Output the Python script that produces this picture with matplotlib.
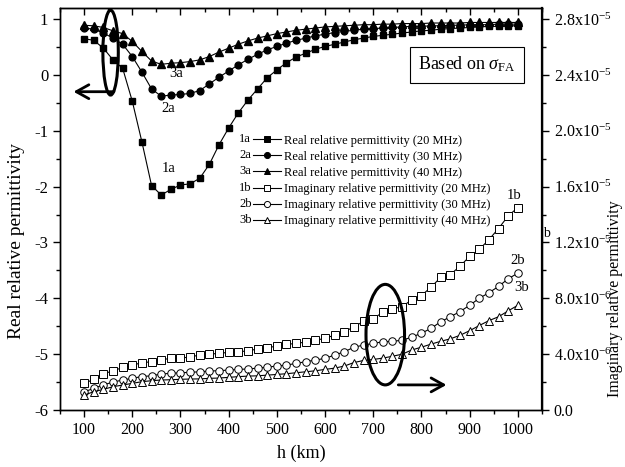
import numpy as np
import matplotlib
matplotlib.use('Agg')
import matplotlib.pyplot as plt
from matplotlib.lines import Line2D
from matplotlib.text import Text
from matplotlib.legend_handler import HandlerBase
from matplotlib.patches import Ellipse
from matplotlib.ticker import MultipleLocator

plt.rcParams['font.family'] = ['Liberation Serif', 'DejaVu Serif']
plt.rcParams['mathtext.fontset'] = 'custom'
plt.rcParams['mathtext.rm'] = 'Liberation Serif'
plt.rcParams['mathtext.it'] = 'Liberation Serif:italic'

# ---------------- data ----------------
h_km = list(range(100, 1001, 20))

real_20 = [0.65, 0.62, 0.48, 0.27, 0.12, -0.47, -1.20, -1.98, -2.15, -2.05,
           -1.97, -1.95, -1.85, -1.60, -1.25, -0.95, -0.68, -0.45, -0.25, -0.05,
           0.09, 0.22, 0.32, 0.39, 0.46, 0.51, 0.55, 0.59, 0.63, 0.66,
           0.69, 0.71, 0.73, 0.75, 0.77, 0.79, 0.80, 0.82, 0.83, 0.84,
           0.85, 0.86, 0.87, 0.87, 0.88, 0.88]
real_30 = [0.84, 0.82, 0.75, 0.66, 0.55, 0.33, 0.05, -0.25, -0.38, -0.36,
           -0.35, -0.33, -0.28, -0.16, -0.04, 0.07, 0.18, 0.28, 0.37, 0.45,
           0.51, 0.57, 0.62, 0.66, 0.70, 0.73, 0.76, 0.78, 0.80, 0.82,
           0.83, 0.84, 0.85, 0.86, 0.87, 0.87, 0.88, 0.88, 0.89, 0.89,
           0.90, 0.90, 0.90, 0.91, 0.91, 0.91]
real_40 = [0.89, 0.88, 0.85, 0.79, 0.74, 0.60, 0.42, 0.25, 0.19, 0.21,
           0.22, 0.24, 0.27, 0.33, 0.41, 0.48, 0.55, 0.61, 0.66, 0.70,
           0.74, 0.77, 0.80, 0.82, 0.84, 0.86, 0.87, 0.88, 0.89, 0.90,
           0.90, 0.91, 0.91, 0.92, 0.92, 0.92, 0.93, 0.93, 0.93, 0.93,
           0.94, 0.94, 0.94, 0.94, 0.94, 0.94]

# imaginary parts, in units of 1e-6
imag_20 = [1.9, 2.2, 2.6, 2.8, 3.05, 3.2, 3.4, 3.45, 3.6, 3.7,
           3.72, 3.8, 3.94, 4.0, 4.06, 4.13, 4.17, 4.24, 4.37, 4.46,
           4.58, 4.7, 4.77, 4.87, 5.0, 5.13, 5.37, 5.6, 5.96, 6.35,
           6.55, 7.0, 7.25, 7.4, 7.9, 8.2, 8.8, 9.5, 9.7, 10.3,
           11.0, 11.5, 12.2, 13.0, 13.9, 14.5]
imag_30 = [1.3, 1.55, 1.8, 2.0, 2.15, 2.27, 2.4, 2.45, 2.58, 2.63,
           2.67, 2.7, 2.74, 2.79, 2.82, 2.86, 2.91, 2.94, 3.0, 3.07,
           3.15, 3.22, 3.34, 3.46, 3.58, 3.7, 3.94, 4.17, 4.5, 4.65,
           4.77, 4.89, 4.92, 5.0, 5.22, 5.5, 5.85, 6.32, 6.68, 7.05,
           7.5, 8.0, 8.4, 8.85, 9.4, 9.8]
imag_40 = [1.07, 1.31, 1.48, 1.67, 1.79, 1.91, 2.03, 2.1, 2.15, 2.17,
           2.2, 2.22, 2.23, 2.27, 2.29, 2.34, 2.39, 2.43, 2.45, 2.5,
           2.55, 2.6, 2.67, 2.74, 2.81, 2.91, 3.0, 3.15, 3.4, 3.55,
           3.62, 3.72, 3.85, 4.0, 4.3, 4.5, 4.72, 4.92, 5.1, 5.35,
           5.68, 6.05, 6.4, 6.68, 7.1, 7.5]
imag_scale = 1e-6

series_prefix = ['1a', '2a', '3a', '1b', '2b', '3b']
series_labels = ['Real relative permittivity (20 MHz)',
                 'Real relative permittivity (30 MHz)',
                 'Real relative permittivity (40 MHz)',
                 'Imaginary relative permittivity (20 MHz)',
                 'Imaginary relative permittivity (30 MHz)',
                 'Imaginary relative permittivity (40 MHz)']

x_ticks = list(range(100, 1001, 100))
left_ticks = [-6, -5, -4, -3, -2, -1, 0, 1]
right_ticks = [0.0, 4e-6, 8e-6, 1.2e-5, 1.6e-5, 2.0e-5, 2.4e-5, 2.8e-5]
right_ticklabels = ['0.0', r'4.0x10$^{-6}$', r'8.0x10$^{-6}$', r'1.2x10$^{-5}$',
                    r'1.6x10$^{-5}$', r'2.0x10$^{-5}$', r'2.4x10$^{-5}$', r'2.8x10$^{-5}$']

# ---------------- figure ----------------
fig = plt.figure(figsize=(6.25, 4.67), dpi=100)
ax = fig.add_axes([0.096, 0.122, 0.771, 0.861])
ax2 = ax.twinx()

lw = 0.8
ms_f = 4.6
ms_o = 5.4
l1, = ax.plot(h_km, real_20, color='k', lw=lw, marker='s', ms=ms_f)
l2, = ax.plot(h_km, real_30, color='k', lw=lw, marker='o', ms=ms_f + 0.3)
l3, = ax.plot(h_km, real_40, color='k', lw=lw, marker='^', ms=ms_f + 0.8)
i20 = np.array(imag_20) * imag_scale
i30 = np.array(imag_30) * imag_scale
i40 = np.array(imag_40) * imag_scale
l4, = ax2.plot(h_km, i20, color='k', lw=lw, marker='s', ms=ms_o, mfc='white', mec='k', mew=0.7)
l5, = ax2.plot(h_km, i30, color='k', lw=lw, marker='o', ms=ms_o, mfc='white', mec='k', mew=0.7)
l6, = ax2.plot(h_km, i40, color='k', lw=lw, marker='^', ms=ms_o + 0.6, mfc='white', mec='k', mew=0.7)

ax.set_xlim(50, 1050)
ax.set_ylim(-6, 1.2)
ax2.set_ylim(0, 2.88e-5)

ax.set_xticks(x_ticks)
ax.set_xticklabels([str(v) for v in x_ticks])
ax.xaxis.set_minor_locator(MultipleLocator(50))
ax.set_yticks(left_ticks)
ax.set_yticklabels([str(v) for v in left_ticks])
ax.yaxis.set_minor_locator(MultipleLocator(0.5))
ax2.set_yticks(right_ticks)
ax2.set_yticklabels(right_ticklabels)
ax2.yaxis.set_minor_locator(MultipleLocator(2e-6))

ax.tick_params(axis='x', which='major', direction='out', length=5, width=1, labelsize=11.5)
ax.tick_params(axis='y', which='major', direction='out', length=5, width=1, labelsize=12)
ax.tick_params(axis='both', which='minor', direction='out', length=3, width=1)
ax.tick_params(axis='y', right=False)
ax2.tick_params(axis='y', which='major', direction='out', length=5, width=1, labelsize=11.5)
ax2.tick_params(axis='y', which='minor', direction='out', length=3, width=1)

top = ax.secondary_xaxis('top')
top.set_xticks(x_ticks)
top.xaxis.set_minor_locator(MultipleLocator(50))
top.tick_params(axis='x', which='major', direction='in', length=5, width=1, labeltop=False)
top.tick_params(axis='x', which='minor', direction='in', length=3, width=1)

for s in ax.spines.values():
    s.set_linewidth(1.0)
for s in ax2.spines.values():
    s.set_linewidth(1.0)
ax2.spines['right'].set_linewidth(1.6)

ax.set_xlabel('h (km)', fontsize=13, labelpad=5)
fig.text(0.026, 0.485, 'Real relative permittivity', rotation=90, ha='center', va='center', fontsize=14)
fig.text(0.997, 0.36, 'Imaginary relative permittivity', rotation=90, ha='right', va='center', fontsize=11.5)
fig.text(0.874, 0.499, 'b', ha='center', va='center', fontsize=10)

# curve labels
ax.text(275, -1.68, '1a', fontsize=10.5, ha='center', va='center')
ax.text(275, -0.60, '2a', fontsize=10.5, ha='center', va='center')
ax.text(290, 0.02, '3a', fontsize=10.5, ha='center', va='center')
ax2.text(992, 1.54e-5, '1b', fontsize=10.5, ha='center', va='center')
ax2.text(1000, 1.07e-5, '2b', fontsize=10.5, ha='center', va='center')
ax2.text(1008, 8.8e-6, '3b', fontsize=10.5, ha='center', va='center')

# ellipses and arrows
ax2.add_patch(Ellipse((155, 0.40), 32, 1.52, transform=ax.transData, fill=False, ec='k', lw=2.2, zorder=5))
ax2.add_patch(Ellipse((725, -4.65), 80, 1.80, transform=ax.transData, fill=False, ec='k', lw=2.2, zorder=5))
ax.annotate('', xy=(78, -0.30), xytext=(162, -0.30),
            arrowprops=dict(arrowstyle='->,head_length=0.9,head_width=0.5', lw=2, color='k',
                            shrinkA=0, shrinkB=0))
ax.annotate('', xy=(852, -5.55), xytext=(752, -5.55),
            arrowprops=dict(arrowstyle='->,head_length=0.9,head_width=0.5', lw=2, color='k',
                            shrinkA=0, shrinkB=0))

# info box
ax2.text(0.844, 0.859, r'Based on $\sigma_{\mathrm{FA}}$', transform=ax.transAxes,
         ha='center', va='center', fontsize=13,
         bbox=dict(boxstyle='square,pad=0.45', fc='white', ec='k', lw=0.8))


class PrefixHandler(HandlerBase):
    def __init__(self, prefix):
        super().__init__()
        self.prefix = prefix

    def create_artists(self, legend, orig_handle, xdescent, ydescent, width, height, fontsize, trans):
        y = height / 2 - ydescent
        x0 = -xdescent
        t = Text(x0, y, self.prefix, fontsize=fontsize, va='center', ha='left', transform=trans)
        lx0 = x0 + 0.34 * width
        lx1 = x0 + width
        line = Line2D([lx0, lx1], [y, y], color='k', lw=0.8, transform=trans)
        mk = Line2D([(lx0 + lx1) / 2], [y], marker=orig_handle.get_marker(), ms=4.4,
                    mfc=orig_handle.get_markerfacecolor(), mec='k', mew=0.7, ls='none', transform=trans)
        return [t, line, mk]


handles = [l1, l2, l3, l4, l5, l6]
hmap = {h: PrefixHandler(p) for h, p in zip(handles, series_prefix)}
ax2.legend(handles, series_labels, handler_map=hmap, loc='upper left', bbox_to_anchor=(0.372, 0.685),
           frameon=False, fontsize=9, handlelength=3.3, handletextpad=0.25, labelspacing=0.33,
           borderaxespad=0, borderpad=0)

fig.savefig('out.png', dpi=100)
